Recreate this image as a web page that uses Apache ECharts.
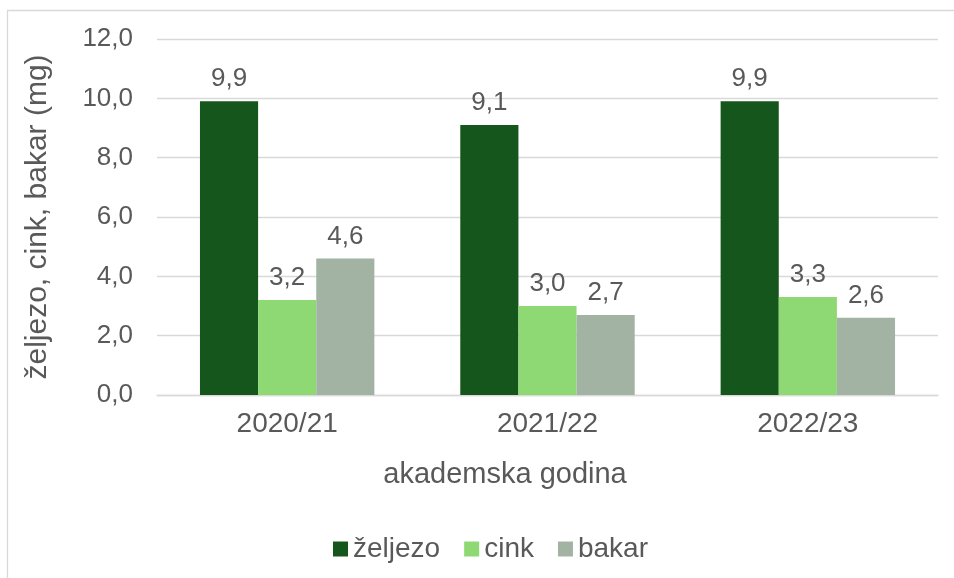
<!DOCTYPE html>
<html>
<head>
<meta charset="utf-8">
<script src="https://cdn.jsdelivr.net/npm/echarts@6/dist/echarts.min.js"></script>
<style>
  html, body { margin: 0; padding: 0; background: #fff; }
  #chart { width: 954px; height: 578px; }
</style>
</head>
<body>
<div id="chart"></div>
<script>
// podaci
var godine = ['2020/21', '2021/22', '2022/23'];
var zeljezo = [9.9, 9.1, 9.9];
var cink = [3.2, 3.0, 3.3];
var bakar = [4.6, 2.7, 2.6];
var yTicks = [0, 2, 4, 6, 8, 10, 12];

var txt = '#595959';
var font = '"Liberation Sans", Arial, sans-serif';

function zarez(v) {
    return v.toFixed(1).replace('.', ',');
}

function serija(name, data, color) {
    return {
        name: name,
        type: 'bar',
        data: data,
        barGap: '0%',
        barCategoryGap: '33%',
        itemStyle: { color: color },
        label: {
            show: true,
            position: 'top',
            distance: 9,
            color: txt,
            fontFamily: font,
            fontSize: 26,
            formatter: function (p) { return zarez(p.value); }
        }
    };
}

var myChart = echarts.init(document.getElementById('chart'));
myChart.setOption({
    animation: false,
    textStyle: { fontFamily: font },
    grid: { left: 157, right: 16, top: 39, bottom: 183 },
    legend: {
        left: 328,
        top: 530,
        itemWidth: 15,
        itemHeight: 15,
        itemGap: 24,
        icon: 'rect',
        textStyle: { color: txt, fontSize: 28, fontFamily: font },
        data: ['željezo', 'cink', 'bakar']
    },
    xAxis: {
        type: 'category',
        data: godine,
        axisLine: { lineStyle: { color: '#D9D9D9', width: 1.3 } },
        axisTick: { show: false },
        axisLabel: { color: txt, fontSize: 28, margin: 15, fontFamily: font }
    },
    yAxis: {
        type: 'value',
        min: yTicks[0],
        max: yTicks[yTicks.length - 1],
        interval: 2,
        name: 'željezo, cink, bakar (mg)',
        nameLocation: 'middle',
        nameGap: 104,
        nameTextStyle: { color: txt, fontSize: 30, fontFamily: font },
        axisLine: { show: false },
        axisTick: { show: false },
        splitLine: { lineStyle: { color: '#D9D9D9', width: 1.3 } },
        axisLabel: {
            color: txt, fontSize: 26, margin: 24, fontFamily: font,
            formatter: function (v) { return zarez(v); }
        }
    },
    graphic: [
        {
            type: 'rect',
            shape: { x: 7.5, y: 10.5, width: 1100, height: 1100 },
            style: { fill: null, stroke: '#D9D9D9', lineWidth: 1.3 },
            silent: true
        },
        {
            type: 'text',
            x: 505,
            y: 475,
            style: {
                text: 'akademska godina',
                fill: txt,
                font: '29px ' + font,
                textAlign: 'center',
                textVerticalAlign: 'middle'
            }
        }
    ],
    series: [
        serija('željezo', zeljezo, '#14561C'),
        serija('cink', cink, '#8ED973'),
        serija('bakar', bakar, '#A2B3A4')
    ]
});
</script>
</body>
</html>
